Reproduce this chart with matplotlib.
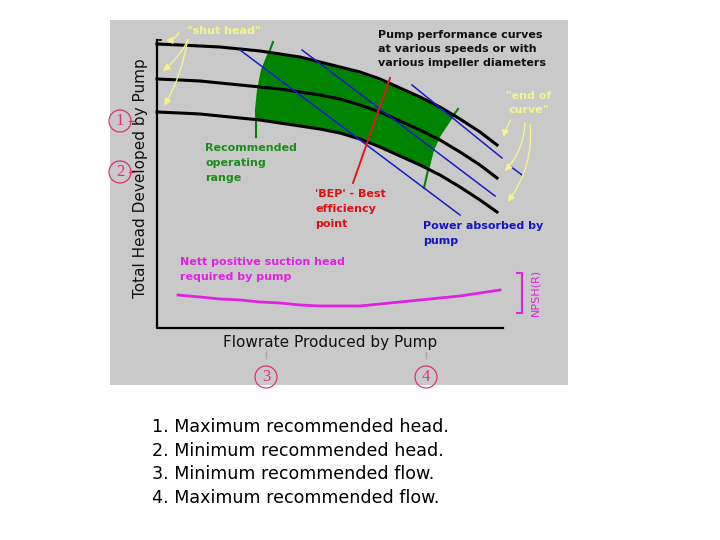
import matplotlib.pyplot as plt
from matplotlib.patches import Polygon, Rectangle
import numpy as np

# everything in picture pixels (x right, y down)

# pump head curves
curve_x = [157, 180, 200, 220, 240, 260, 280, 300, 320, 340, 360, 380, 400, 420, 440, 460, 480, 497]
head_top = [44, 45, 46, 47, 49, 51, 54, 57, 62, 67, 72, 79, 88, 97, 107, 119, 132, 145]
head_mid = [79, 80, 81, 83, 85, 87, 89, 92, 95, 99, 105, 112, 121, 130, 140, 152, 165, 178]
head_bot = [112, 113, 114, 116, 118, 120, 123, 126, 129, 133, 139, 147, 156, 165, 175, 187, 200, 212]

# recommended operating range edges
left_edge_x = [273, 270, 262, 258, 256, 256]
left_edge_y = [42, 50, 70, 90, 110, 137]
right_edge_x = [458, 450, 440, 433, 428, 424]
right_edge_y = [109, 120, 135, 150, 170, 188]

# power absorbed lines
power_lines = [((240, 460), (50, 215)),
               ((302, 495), (50, 196)),
               ((412, 502), (85, 158)),
               ((510, 522), (166, 175))]

# best efficiency point line
bep_x = [390, 353]
bep_y = [78, 183]

# NPSH(R) curve
npsh_x = [178, 200, 220, 240, 260, 280, 300, 320, 340, 360, 380, 400, 420, 440, 460, 480, 500]
npsh_y = [295, 297, 299, 300, 302, 303, 305, 306, 306, 306, 304, 302, 300, 298, 296, 293, 290]

notes = ["1. Maximum recommended head.",
         "2. Minimum recommended head.",
         "3. Minimum recommended flow.",
         "4. Maximum recommended flow."]

GRAY = "#c9c9c9"
GREEN = "#008400"
YELLOW = "#f4f48c"
PINK = "#e0307a"
MAGENTA = "#e022e0"

fig = plt.figure(figsize=(7.2, 5.4), dpi=100)
ax = fig.add_axes([0, 0, 1, 1])
ax.set_xlim(0, 720)
ax.set_ylim(540, 0)
ax.axis("off")

ax.add_patch(Rectangle((110, 20), 458, 365, fc=GRAY, ec="none", zorder=0))

# green region clipped between top and bottom curves
band = Polygon(list(zip(curve_x, head_top)) + list(zip(curve_x[::-1], head_bot[::-1])),
               closed=True, fc="none", ec="none")
ax.add_patch(band)
quad = Polygon(list(zip(left_edge_x, left_edge_y)) + list(zip(right_edge_x[::-1], right_edge_y[::-1])),
               closed=True, fc=GREEN, ec="none", zorder=1)
ax.add_patch(quad)
quad.set_clip_path(band)
ax.plot(left_edge_x, left_edge_y, color=GREEN, lw=1.5, zorder=1)
ax.plot(right_edge_x, right_edge_y, color=GREEN, lw=1.5, zorder=1)

for hy in (head_top, head_mid, head_bot):
    ax.plot(curve_x, hy, color="black", lw=2.2, zorder=3, solid_joinstyle="round")

for lx, ly in power_lines:
    ax.plot(lx, ly, color="#1a1acc", lw=1.1, zorder=4)

ax.plot(bep_x, bep_y, color="#e01818", lw=1.4, zorder=5)

ax.plot(npsh_x, npsh_y, color=MAGENTA, lw=2, zorder=3)

# axes
ax.plot([157, 157, 503], [40, 328, 328], color="black", lw=1.6, zorder=3)
ax.plot([157, 161], [40, 40], color="black", lw=1.2, zorder=3)

# NPSH bracket
ax.plot([517, 522, 522, 517], [273, 273, 313, 313], color=MAGENTA, lw=1.5)
ax.text(535, 292, "NPSH(R)", color=MAGENTA, fontsize=8, rotation=90, ha="center", va="center")

def lines(x, y0, txt, color, ha="left", step=15):
    for i, t in enumerate(txt):
        ax.text(x, y0 + i * step, t, color=color, fontsize=8, fontweight="bold",
                ha=ha, va="center", zorder=6)

lines(378, 35, ["Pump performance curves", "at various speeds or with",
                "various impeller diameters"], "#111111", step=14)
lines(205, 148, ["Recommended", "operating", "range"], "#1e8c1e")
lines(315, 194, ["'BEP' - Best", "efficiency", "point"], "#e01010")
lines(423, 226, ["Power absorbed by", "pump"], "#1414c0")
lines(180, 262, ["Nett positive suction head", "required by pump"], MAGENTA)
lines(187, 31, ['"shut head"'], YELLOW)
lines(529, 96, ['"end of', 'curve"'], YELLOW, ha="center", step=14)

ax.text(141, 178, "Total Head Developed by Pump", fontsize=11, rotation=90,
        ha="center", va="center", color="#111111")
ax.text(330, 342, "Flowrate Produced by Pump", fontsize=11,
        ha="center", va="center", color="#111111")

# yellow arrows
arrow_kw = dict(arrowstyle="-|>", color=YELLOW, lw=1, mutation_scale=10)
shut_arrows = [((180, 30), (163, 40), -0.4),
               ((190, 37), (161, 73), -0.1),
               ((188, 37), (163, 108), -0.1)]
end_arrows = [((512, 118), (503, 140), 0.1),
              ((525, 120), (503, 173), -0.2),
              ((530, 122), (506, 204), -0.2)]
for start, end, rad in shut_arrows + end_arrows:
    ax.annotate("", xy=end, xytext=start,
                arrowprops=dict(connectionstyle=f"arc3,rad={rad}", **arrow_kw), zorder=6)

# circled numbers
circ = dict(boxstyle="circle,pad=0.18", fc="none", ec=PINK, lw=0.9)
for n, (cx, cy, dash) in zip("1234", [(120, 121, True), (120, 172, True),
                                       (266, 377, False), (426, 377, False)]):
    ax.text(cx, cy, n, color=PINK, fontsize=12, family="Liberation Serif",
            ha="center", va="center", bbox=circ)
    if dash:
        ax.plot([129, 134], [cy, cy], color=PINK, lw=1)
    else:
        ax.plot([cx, cx], [352, 358], color="#a8a8a8", lw=1)

for i, t in enumerate(notes):
    ax.text(152, 427 + i * 23.7, t, fontsize=12.6, ha="left", va="center", color="black")

fig.savefig("out.png", dpi=100)
